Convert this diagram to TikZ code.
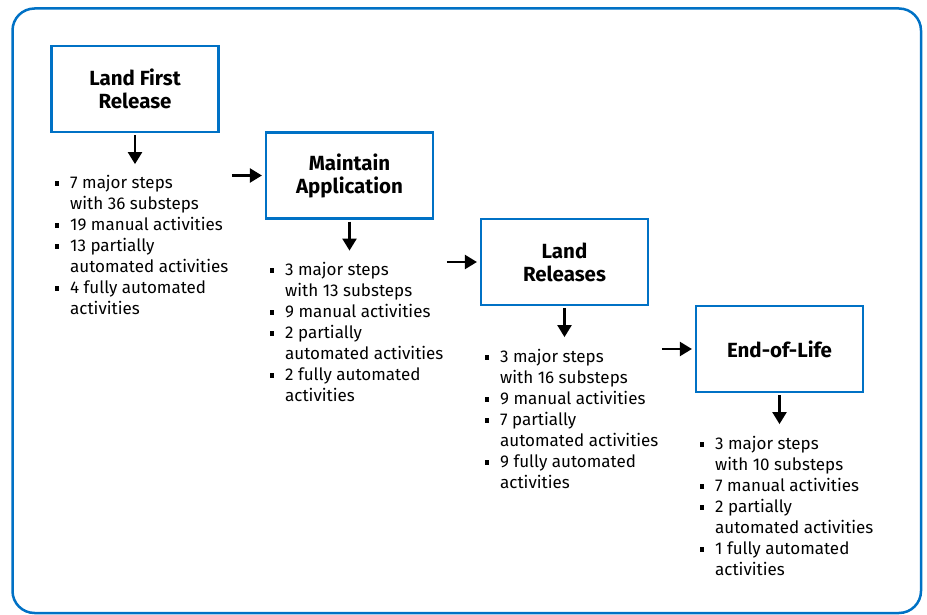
\documentclass[tikz,border=0pt]{standalone}
\usepackage{fontspec}
\setmainfont{Fira Sans}
\usetikzlibrary{calc,arrows.meta}
\definecolor{frame}{HTML}{0071C5}
\definecolor{ink}{HTML}{000000}
\newcommand{\itm}{\makebox[15pt][l]{\rule[3.4pt]{4pt}{4.6pt}}}
\newcommand{\cnt}{\hspace*{15pt}}
\tikzset{
  phase/.style={draw=frame, line width=2.2pt, minimum width=167pt, minimum height=86pt,
    inner sep=2pt, align=center, font=\fontsize{20.5}{23}\selectfont\bfseries},
  facts/.style={anchor=north west, inner sep=0pt, align=left, font=\fontsize{17}{21}\selectfont},
  flow/.style={draw=ink, line width=2.3pt, -{Triangle[width=14pt,length=12pt]}},
}

\begin{document}
\begin{tikzpicture}[x=1pt,y=-1pt]
  \useasboundingbox (0,0) rectangle (927,615);
  \draw[draw=frame, line width=2.5pt, rounded corners=22pt] (12.5,8.5) rectangle (921,613);

  % phases
  \node[phase] (first) at (135,89) {Land First\\Release};
  \node[phase] (maint) at (349.5,175.5) {Maintain\\Application};
  \node[phase] (rels) at (564.5,262) {Land\\Releases};
  \node[phase] (eol) at (779.5,349) {End-of-Life};

  % activity counts
  \node[facts] (f1) at (55,175.5) {\itm 7 major steps\\\cnt with 36 substeps\\\itm 19 manual activities\\
    \itm 13 partially\\\cnt automated activities\\\itm 4 fully automated\\\cnt activities};
  \node[facts] (f2) at (270,262.5) {\itm 3 major steps\\\cnt with 13 substeps\\\itm 9 manual activities\\
    \itm 2 partially\\\cnt automated activities\\\itm 2 fully automated\\\cnt activities};
  \node[facts] (f3) at (485,349.5) {\itm 3 major steps\\\cnt with 16 substeps\\\itm 9 manual activities\\
    \itm 7 partially\\\cnt automated activities\\\itm 9 fully automated\\\cnt activities};
  \node[facts] (f4) at (700,436.5) {\itm 3 major steps\\\cnt with 10 substeps\\\itm 7 manual activities\\
    \itm 2 partially\\\cnt automated activities\\\itm 1 fully automated\\\cnt activities};

  % arrows
  \coordinate (d1) at ($(first.south)+(0,31)$);
  \coordinate (d2) at ($(maint.south)+(0,31)$);
  \coordinate (d3) at ($(rels.south)+(0,31)$);
  \coordinate (d4) at ($(eol.south)+(0,31)$);
  \draw[flow, shorten <=2pt] (first.south) -- (d1);
  \draw[flow, shorten <=2pt] (maint.south) -- (d2);
  \draw[flow, shorten <=2pt] (rels.south) -- (d3);
  \draw[flow, shorten <=2pt] (eol.south) -- (d4);

  \coordinate (r2) at ($(maint.west)+(-33,0)$);
  \coordinate (r3) at ($(rels.west)+(-33,0)$);
  \coordinate (r4) at ($(eol.west)+(-33,0)$);
  \draw[flow, shorten >=3pt] (r2) -- (maint.west);
  \draw[flow, shorten >=3pt] (r3) -- (rels.west);
  \draw[flow, shorten >=3pt] (r4) -- (eol.west);
\end{tikzpicture}
\end{document}
